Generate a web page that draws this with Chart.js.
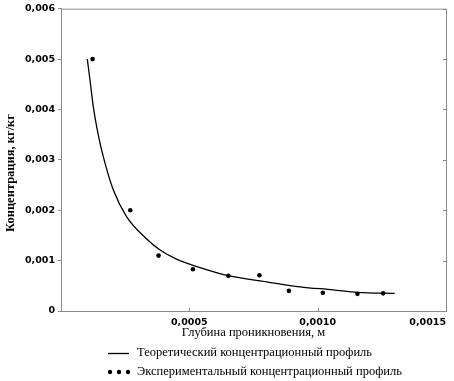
<!DOCTYPE html>
<html>
<head>
<meta charset="utf-8">
<script src="https://cdn.jsdelivr.net/npm/chart.js@4/dist/chart.umd.min.js"></script>
<style>
  html, body { margin: 0; padding: 0; background: #fff; }
</style>
</head>
<body>
<canvas id="profileChart" width="454" height="381"></canvas>
<script>
// theoretical curve
const curveX = [0.0001025, 0.000115, 0.000126, 0.000145, 0.000165, 0.000204, 0.000256, 0.000334, 0.000386, 0.00045, 0.000542, 0.000652, 0.000801, 0.000931, 0.00106, 0.001155, 0.0013];
const curveY = [0.005, 0.0045, 0.00405, 0.0035, 0.00306, 0.0024, 0.00187, 0.00143, 0.00121, 0.00103, 0.00086, 0.0007, 0.00058, 0.00048, 0.00042, 0.00037, 0.00035];

// experimental points
const expX = [0.000123, 0.00027, 0.00038, 0.000514, 0.000652, 0.000773, 0.000888, 0.00102, 0.001155, 0.001255];
const expY = [0.005, 0.002, 0.0011, 0.00083, 0.0007, 0.00071, 0.0004, 0.00036, 0.00034, 0.00035];

const xTicks = [0, 0.0005, 0.0010, 0.0015];
const yTicks = [0, 0.001, 0.002, 0.003, 0.004, 0.005, 0.006];

const yTitle = 'Концентрация, кг/кг';
const legendLabels = ['Теоретический концентрационный профиль', 'Экспериментальный концентрационный профиль'];

const frameColor = '#8a8a8a';
const serif = '"Liberation Serif", "Times New Roman", serif';
const sans = '"DejaVu Sans", sans-serif';

function toPoints(xs, ys) {
    return xs.map((x, i) => ({ x: x, y: ys[i] }));
}

// frame (top and right sides) plus small inward ticks on bottom/right
const framePlugin = {
    id: 'frame',
    afterDatasetsDraw(chart) {
        const { ctx, chartArea: a, scales } = chart;
        ctx.save();
        ctx.strokeStyle = frameColor;
        ctx.lineWidth = 1;
        ctx.beginPath();
        ctx.moveTo(a.left, a.top + 0.5);
        ctx.lineTo(a.right + 0.5, a.top + 0.5);
        ctx.lineTo(a.right + 0.5, a.bottom);
        xTicks.forEach(v => {
            const px = Math.round(scales.x.getPixelForValue(v)) + 0.5;
            ctx.moveTo(px, a.bottom);
            ctx.lineTo(px, a.bottom - 3);
        });
        yTicks.forEach(v => {
            const py = Math.round(scales.y.getPixelForValue(v)) + 0.5;
            ctx.moveTo(a.right, py);
            ctx.lineTo(a.right - 3, py);
        });
        ctx.stroke();
        ctx.restore();
    }
};

// y title sits a bit below the axis middle in the original, plus the legend
const textPlugin = {
    id: 'extraText',
    afterDraw(chart) {
        const ctx = chart.ctx;
        ctx.save();
        ctx.fillStyle = '#000';
        ctx.strokeStyle = '#000';
        ctx.textBaseline = 'middle';

        ctx.save();
        ctx.translate(11, 173);
        ctx.rotate(-Math.PI / 2);
        ctx.textAlign = 'center';
        ctx.font = 'bold 12.5px ' + serif;
        ctx.fillText(yTitle, 0, 0);
        ctx.restore();

        ctx.font = '12.5px ' + serif;
        ctx.lineWidth = 1.3;
        ctx.beginPath();
        ctx.moveTo(108, 353.5);
        ctx.lineTo(129, 353.5);
        ctx.stroke();
        ctx.fillText(legendLabels[0], 137, 353);
        [110, 119, 128].forEach(x => {
            ctx.beginPath();
            ctx.arc(x, 372, 2.2, 0, Math.PI * 2);
            ctx.fill();
        });
        ctx.fillText(legendLabels[1], 137, 372);
        ctx.restore();
    }
};

function fmt(v, digits) {
    if (v === 0) return '0';
    return v.toFixed(digits).replace('.', ',');
}

const ctx = document.getElementById('profileChart').getContext('2d');
const profileChart = new Chart(ctx, {
    type: 'scatter',
    data: {
        datasets: [{
            label: legendLabels[0],
            data: toPoints(curveX, curveY),
            showLine: true,
            borderColor: '#000',
            borderWidth: 1.3,
            pointRadius: 0,
            cubicInterpolationMode: 'monotone',
            fill: false
        }, {
            label: legendLabels[1],
            data: toPoints(expX, expY),
            showLine: false,
            pointRadius: 2.3,
            pointBackgroundColor: '#000',
            pointBorderColor: '#000',
            pointBorderWidth: 0
        }]
    },
    options: {
        responsive: false,
        animation: false,
        layout: {
            padding: { left: 0, top: 8, right: 8, bottom: 38 }
        },
        plugins: {
            legend: { display: false },
            tooltip: { enabled: false }
        },
        scales: {
            x: {
                type: 'linear',
                min: 0,
                max: 0.0015,
                afterFit: s => { s.height = 32; },
                afterBuildTicks: s => { s.ticks = xTicks.map(v => ({ value: v })); },
                grid: { display: true, drawOnChartArea: false, drawTicks: false },
                border: { color: frameColor, width: 1 },
                ticks: {
                    align: 'inner',
                    padding: 6,
                    color: '#000',
                    font: { family: sans, size: 9.5, weight: 'bold' },
                    callback: v => (v === 0 ? '' : fmt(v, 4))
                },
                title: {
                    display: true,
                    text: 'Глубина проникновения, м',
                    color: '#000',
                    font: { family: serif, size: 12.5 },
                    padding: { top: 0, bottom: 3 }
                }
            },
            y: {
                type: 'linear',
                min: 0,
                max: 0.006,
                afterFit: s => { s.width = 61; },
                afterBuildTicks: s => { s.ticks = yTicks.map(v => ({ value: v })); },
                grid: { display: true, drawOnChartArea: false, drawTicks: true, tickLength: 3, color: frameColor },
                border: { color: frameColor, width: 1 },
                ticks: {
                    padding: 3,
                    color: '#000',
                    font: { family: sans, size: 9.5, weight: 'bold' },
                    callback: v => fmt(v, 3)
                }
            }
        }
    },
    plugins: [framePlugin, textPlugin]
});
</script>
</body>
</html>
